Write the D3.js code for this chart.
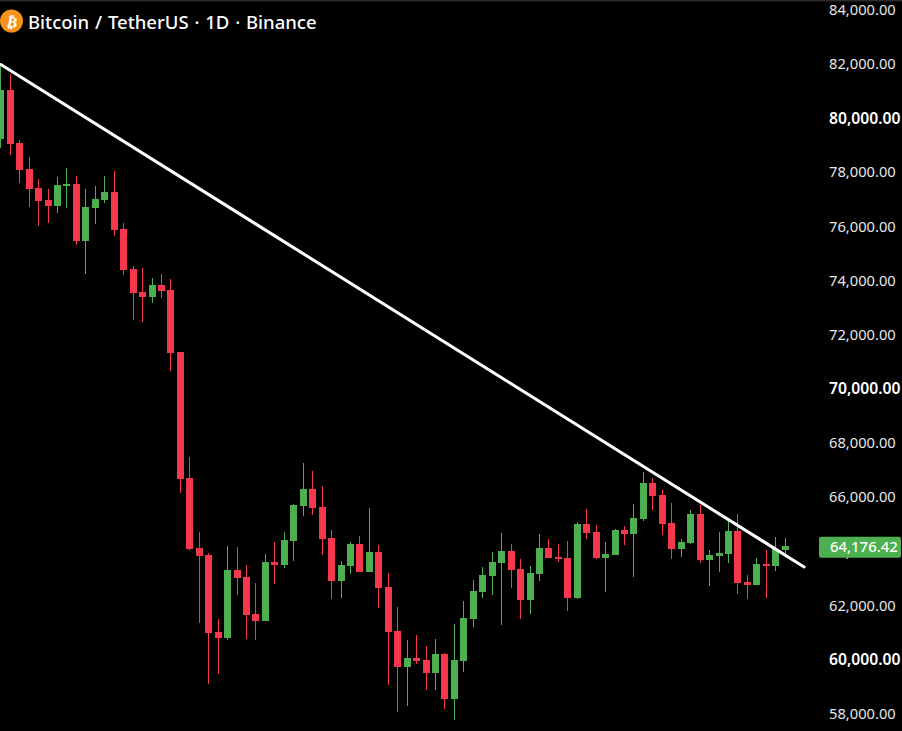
<!DOCTYPE html>
<html><head><meta charset="utf-8">
<script src="https://cdn.jsdelivr.net/npm/d3@7/dist/d3.min.js"></script>
<style>html,body{margin:0;padding:0;background:#000;overflow:hidden}svg{display:block}</style>
</head><body><div id="chart"></div>
<script>
const titleText = "Bitcoin / TetherUS · 1D · Binance";
const tickValues = [84000,82000,80000,78000,76000,74000,72000,70000,68000,66000,64000,62000,60000,58000];
const opens = [79199,81008,79040,78091,77389,76946,76724,77463,77537,75432,76651,76946,77241,75875,74398,73548,73364,73807,73622,71333,66679,64094,63836,60992,60771,63282,63023,61657,61398,63577,63467,64353,65645,66273,65608,64464,62876,63430,64242,63208,63947,62654,61029,59700,60032,59958,59478,60180,58518,59921,61472,62469,63060,63540,63984,63319,62174,63134,64094,63762,63725,62248,64981,64685,63725,63836,64759,64611,65165,66495,66052,65018,64057,64279,65350,63651,63799,63873,64722,62839,62728,63503,63430,64020];
const highs = [81995,81600,79162,78534,77722,77352,77795,78128,77832,77352,77463,77832,78017,76097,74509,74435,74065,74213,74029,71333,67455,64685,63910,61472,64168,64131,63467,62802,63873,64316,64685,65719,67233,66938,66384,64759,63614,64316,64538,65572,64205,63171,61915,60697,60881,60475,60734,60217,61288,62137,62913,63393,63947,64648,64242,63688,63430,64611,64427,64242,64353,65055,65535,64944,64316,64796,64907,65719,66901,66679,66236,65756,64427,65498,65682,64020,64685,65128,65350,63097,63725,64020,64501,64464];
const lows = [78877,78608,77574,76687,75986,76097,76466,76651,75284,74213,76060,76835,75617,74176,72514,72441,73142,73327,70631,66126,64020,61325,59072,59441,60697,62359,60734,60697,61398,62765,63356,63614,65276,65313,63836,62211,62248,63134,63208,63208,61879,59035,58038,58259,59810,58850,58850,58149,57742,59515,61177,62248,62359,61251,62617,61472,61657,62876,63725,63577,61768,62211,64427,63688,62469,63836,64205,63023,65091,65498,64574,63688,63762,64242,63540,62691,63208,63540,62396,62211,62728,62248,63245,63873];
const closes = [81008,79014,78054,77352,76909,76724,77500,77537,75432,76687,76983,77241,75838,74361,73512,73364,73807,73585,71296,66643,64057,63799,60955,60771,63282,62986,61620,61398,63577,63467,64390,65682,66273,65572,64427,62876,63467,64242,63208,63947,62617,60992,59700,60032,59921,59478,60180,58518,59958,61509,62506,63097,63577,63984,63282,62174,63171,64094,63725,63688,62248,64981,64648,63725,63873,64759,64611,65202,66495,66015,64981,64057,64316,65350,63651,63836,63910,64722,62802,62728,63503,63430,64057,64176.42];
const lastPrice = 64176.42;
const trendIndex = [0,85];
const trendPrice = [81950,63393];

const W=902,H=731,UP="#4CAF50",DOWN="#F7374B";
const svg=d3.select("#chart").append("svg").attr("width",W).attr("height",H).style("background","#000");
const x=d3.scaleLinear().domain([0,opens.length-1]).range([0.8,785.2]);
const y=d3.scaleLinear().domain([84000,58000]).range([9,713]);
const fmt=d3.format(",.2f");
svg.append("rect").attr("width",W).attr("height",1.5).attr("fill","#2a2a2a");

const idx=d3.range(opens.length);
const g=svg.append("g").attr("shape-rendering","crispEdges");
const col=i=>closes[i]>=opens[i]?UP:DOWN;
g.selectAll(".w").data(idx).join("rect").attr("class","w")
 .attr("x",i=>Math.floor(x(i))).attr("width",1)
 .attr("y",i=>Math.round(y(highs[i]))).attr("height",i=>Math.max(1,Math.round(y(lows[i]))-Math.round(y(highs[i]))))
 .attr("fill",col);
g.selectAll(".b").data(idx).join("rect").attr("class","b")
 .attr("x",i=>Math.floor(x(i))-3).attr("width",7)
 .attr("y",i=>Math.round(y(Math.max(opens[i],closes[i]))))
 .attr("height",i=>Math.max(1,Math.round(y(Math.min(opens[i],closes[i])))-Math.round(y(Math.max(opens[i],closes[i])))))
 .attr("fill",col);

svg.append("path").datum(trendIndex.map((t,i)=>[t,trendPrice[i]]))
 .attr("d",d3.line().x(d=>x(d[0])).y(d=>y(d[1])))
 .attr("fill","none").attr("stroke","#fff").attr("stroke-width",3).attr("stroke-linecap","round");

const axis=d3.axisRight(y).tickValues(tickValues).tickSize(0).tickPadding(0).tickFormat(fmt);
const ag=svg.append("g").attr("transform","translate(829,0.8)").call(axis);
ag.select(".domain").remove();
ag.selectAll("text").attr("fill",d=>d%10000===0?"#fff":"#e6e6e6")
 .style("font-family","'Noto Sans',Roboto,sans-serif")
 .style("font-size",d=>d%10000===0?"15.7px":"14.7px")
 .style("font-weight",d=>d%10000===0?"600":"400")
 .attr("x",0);

svg.append("rect").attr("x",819).attr("y",y(lastPrice)-9).attr("width",82).attr("height",21).attr("rx",2).attr("fill",UP);
svg.append("text").attr("x",830).attr("y",y(lastPrice)+6.5).text(fmt(lastPrice)).attr("fill","#fff")
 .style("font-family","'Noto Sans',Roboto,sans-serif").style("font-size","14.9px").style("font-weight","500");

svg.append("circle").attr("cx",11.5).attr("cy",21).attr("r",11.5).attr("fill","#F7931A");
svg.append("text").attr("transform","translate(11.5,27) rotate(12)").attr("text-anchor","middle").text("₿")
 .attr("fill","#fff").style("font-family","'DejaVu Sans'").style("font-size","15px").style("font-weight","700");
svg.append("text").attr("x",28).attr("y",28.5).text(titleText).attr("fill","#fff")
 .style("font-family","'Noto Sans',Roboto,sans-serif").style("font-size","18.5px").style("font-weight","500").style("word-spacing","1px");
</script></body></html>
